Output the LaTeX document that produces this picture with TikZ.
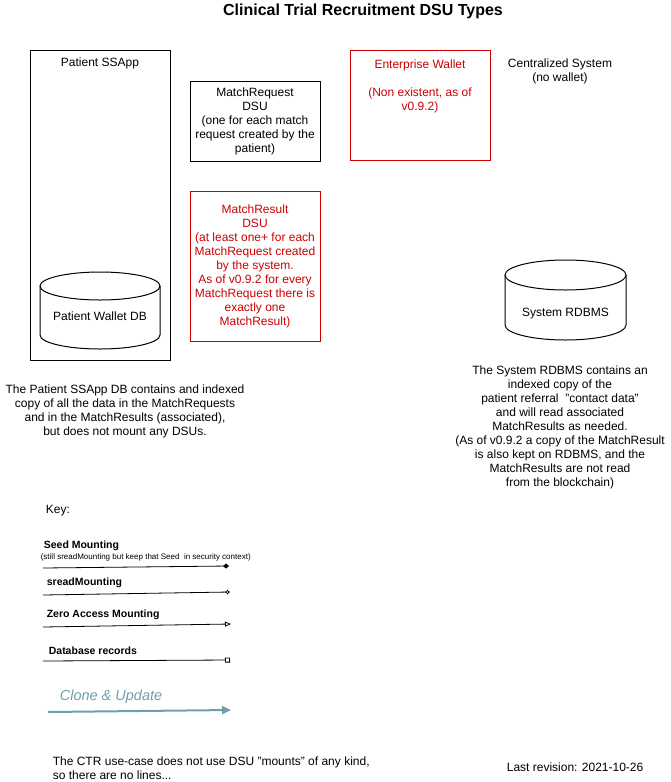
\documentclass[tikz,border=0pt]{standalone}
\usepackage{fontspec}
\setmainfont{Liberation Sans}
\usepackage{tikz}
\usetikzlibrary{arrows.meta}

\definecolor{dsured}{HTML}{CC0000}
\definecolor{clonecol}{RGB}{108,160,172}

\begin{document}
\begin{tikzpicture}[x=1pt,y=-1pt,line width=1pt,
            font=\fontsize{12}{14}\selectfont,
            dsubox/.style={draw,minimum width=130pt,align=center,inner sep=2pt},
            keylabel/.style={anchor=west,font=\bfseries\fontsize{10.5}{13}\selectfont},
            keyline/.style={line width=0.8pt,shorten >=0pt}]
            \useasboundingbox (0,0) rectangle (671,782);

            \node[font=\bfseries\fontsize{16}{18}\selectfont] (title) at (363,11) {Clinical Trial Recruitment DSU Types};

            % Patient side
            \node[draw,minimum width=140pt,minimum height=310pt,anchor=north west] (ssapp) at (30,50) {};
            \node (ssappname) at (100,63) {Patient SSApp};
            \draw (40,286) -- (40,335) arc (180:0:60 and 14) -- (160,286);
            \draw (100,286) ellipse (60 and 14);
            \node (walletdb) at (100,316) {Patient Wallet DB};

            \node[dsubox,minimum height=80pt] (mreq) at (255,121)
                {MatchRequest\\DSU\\(one for each match\\request created by the\\patient)};
            \node[dsubox,dsured,minimum height=150pt] (mres) at (255,266)
                {MatchResult\\DSU\\(at least one+ for each\\MatchRequest created\\by the system.\\As of v0.9.2 for every\\MatchRequest there is\\exactly one\\MatchResult)};

            % Enterprise side
            \node[draw,dsured,minimum width=140pt,minimum height=110pt,anchor=north west] (ewallet) at (350,50) {};
            \node[dsured,align=center,anchor=north] (ewalletname) at (420,56)
                {Enterprise Wallet\\[14pt](Non existent, as of\\v0.9.2)};
            \node[align=center] (central) at (560,71) {Centralized System\\(no wallet)};
            \draw (505,275) -- (505,325) arc (180:0:60.5 and 15) -- (626,275);
            \draw (565.5,275) ellipse (60.5 and 15);
            \node (rdbms) at (565.5,314) {System RDBMS};

            \node[align=center] (ssappnote) at (125,411)
                {The Patient SSApp DB contains and indexed\\copy of all the data in the MatchRequests\\and in the MatchResults (associated),\\but does not mount any DSUs.};
            \node[align=center] (rdbmsnote) at (560,427)
                {The System RDBMS contains an\\indexed copy of the\\patient referral~ "contact data"\\and will read associated\\MatchResults as needed.\\(As of v0.9.2 a copy of the MatchResult\\is also kept on RDBMS, and the\\MatchResults are not read\\from the blockchain)};

            % Key
            \node[anchor=west] (key) at (42,511) {Key:};
            \node[keylabel] (seedlbl) at (40,546) {Seed Mounting};
            \node[anchor=west,font=\fontsize{8}{9}\selectfont] (seednote) at (37,557)
                {(still sreadMounting but keep that Seed~ in security context)};
            \coordinate (seedA) at (43,568);
            \coordinate (seedB) at (229,566);
            \draw[keyline,-{Diamond[length=6pt,width=5pt]}] (seedA) -- (seedB);

            \node[keylabel] (sreadlbl) at (43,583) {sreadMounting};
            \coordinate (sreadA) at (43,595);
            \coordinate (sreadB) at (230,592);
            \draw[keyline,-{Diamond[open,length=5pt,width=4pt]}] (sreadA) -- (sreadB);

            \node[keylabel] (zerolbl) at (43,615) {Zero Access Mounting};
            \coordinate (zeroA) at (43,627);
            \coordinate (zeroB) at (231,624);
            \draw[keyline,-{Triangle[open,length=6pt,width=5pt]}] (zeroA) -- (zeroB);

            \node[keylabel] (dblbl) at (45,651) {Database records};
            \coordinate (dbA) at (43,661);
            \coordinate (dbB) at (230,660);
            \draw[keyline,-{Square[open,length=5pt,width=5pt]}] (dbA) -- (dbB);

            \node[anchor=west,clonecol,font=\itshape\fontsize{14.5}{18}\selectfont] (clonelbl) at (56,697) {Clone \& Update};
            \coordinate (cloneA) at (48,712);
            \coordinate (cloneB) at (231,710);
            \draw[clonecol,line width=2pt,-{Triangle[length=9pt,width=8pt]}] (cloneA) -- (cloneB);

            \node[anchor=north west,align=left] (ctrnote) at (49,753)
                {The CTR use-case does not use DSU "mounts" of any kind,\\so there are no lines...};
            \node[anchor=west] (revision) at (503,767) {Last revision: 2021-10-26};
        \end{tikzpicture}
\end{document}
